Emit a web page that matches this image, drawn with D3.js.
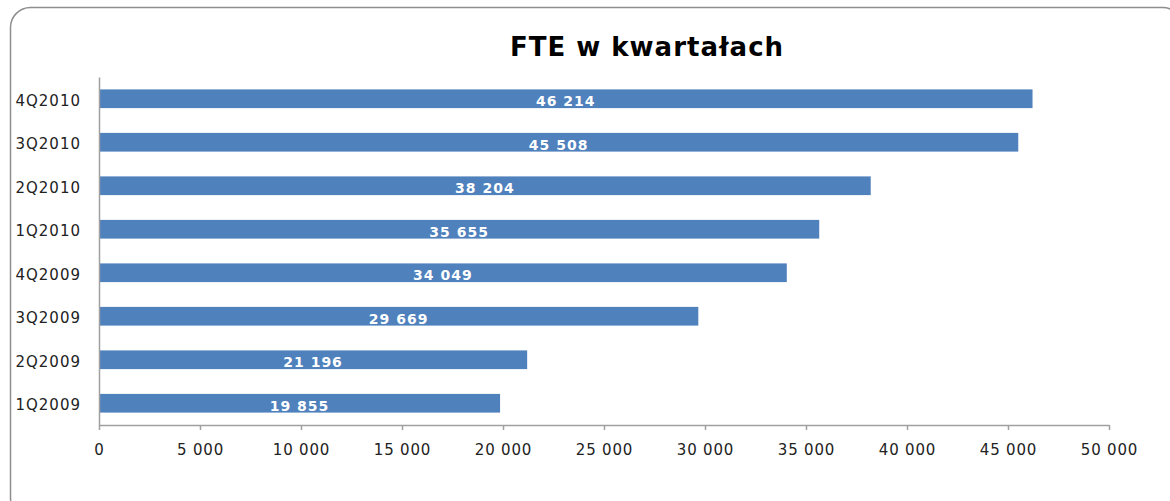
<!DOCTYPE html>
<html>
<head>
<meta charset="utf-8">
<script src="https://cdn.jsdelivr.net/npm/d3@7"></script>
<style>
  html, body { margin: 0; padding: 0; background: #fff; }
  svg { display: block; }
</style>
</head>
<body>
<svg id="chart" width="1170" height="501"></svg>
<script>
const categories = ["1Q2009", "2Q2009", "3Q2009", "4Q2009", "1Q2010", "2Q2010", "3Q2010", "4Q2010"];
const fteValues = [19855, 21196, 29669, 34049, 35655, 38204, 45508, 46214];
const xTickValues = [0, 5000, 10000, 15000, 20000, 25000, 30000, 35000, 40000, 45000, 50000];
const chartTitle = "FTE w kwartałach";

const svg = d3.select("#chart");
const W = 1170, H = 501;
const margin = { left: 99, right: 61, top: 77, bottom: 76 };
const plotLeft = margin.left, plotRight = W - margin.right;
const plotTop = margin.top, plotBottom = H - margin.bottom;

const fmt = v => d3.format(",")(v).replace(/,/g, " ");

// Border (extends past right and bottom edges, as in the reference)
svg.append("rect")
  .attr("x", 10.5).attr("y", 7.5)
  .attr("width", 1172).attr("height", 510)
  .attr("rx", 20).attr("ry", 20)
  .attr("fill", "#fff")
  .attr("stroke", "#8e8e8e")
  .attr("stroke-width", 1.5);

// Title
svg.append("text")
  .attr("x", 647).attr("y", 56)
  .attr("text-anchor", "middle")
  .attr("font-family", "DejaVu Sans")
  .attr("font-weight", "bold")
  .attr("font-size", 26)
  .attr("letter-spacing", 1)
  .attr("fill", "#000")
  .text(chartTitle);

const x = d3.scaleLinear().domain([0, 50000]).range([plotLeft, plotRight]);
const y = d3.scaleBand()
  .domain(categories.slice().reverse())
  .range([plotTop, plotBottom])
  .paddingInner(0.57).paddingOuter(0.285);

// Bars
svg.append("g").selectAll("rect")
  .data(categories.map((c, i) => ({ c, v: fteValues[i] })))
  .join("rect")
  .attr("x", x(0))
  .attr("y", d => y(d.c))
  .attr("width", d => x(d.v) - x(0))
  .attr("height", y.bandwidth())
  .attr("fill", "#4f81bd");

// Bar labels
svg.append("g").selectAll("text")
  .data(categories.map((c, i) => ({ c, v: fteValues[i] })))
  .join("text")
  .attr("x", d => (x(0) + x(d.v)) / 2)
  .attr("y", d => y(d.c) + y.bandwidth() / 2 + 7.5)
  .attr("text-anchor", "middle")
  .attr("font-family", "DejaVu Sans")
  .attr("font-weight", "bold")
  .attr("font-size", 14)
  .attr("letter-spacing", 1)
  .attr("fill", "#fff")
  .text(d => fmt(d.v));

// X axis
const xAxis = svg.append("g")
  .attr("transform", `translate(0,${plotBottom})`)
  .call(d3.axisBottom(x).tickValues(xTickValues).tickSize(5).tickSizeOuter(0).tickPadding(14).tickFormat(fmt));
xAxis.select(".domain").attr("stroke", "#a0a0a0").attr("stroke-width", 1.5);
xAxis.selectAll(".tick line").attr("stroke", "#a0a0a0").attr("stroke-width", 1.5);
xAxis.selectAll(".tick text")
  .attr("font-family", "DejaVu Sans")
  .attr("font-size", 15)
  .attr("letter-spacing", 0.8)
  .attr("fill", "#222");

// Y axis
const yAxis = svg.append("g")
  .attr("transform", `translate(${plotLeft},0)`)
  .call(d3.axisLeft(y).tickSize(0).tickSizeOuter(0).tickPadding(18));
yAxis.select(".domain").attr("stroke", "#a0a0a0").attr("stroke-width", 1.5);
yAxis.selectAll(".tick text")
  .attr("font-family", "DejaVu Sans")
  .attr("font-size", 15)
  .attr("letter-spacing", 1)
  .attr("dy", "0.45em")
  .attr("fill", "#222");
</script>
</body>
</html>
